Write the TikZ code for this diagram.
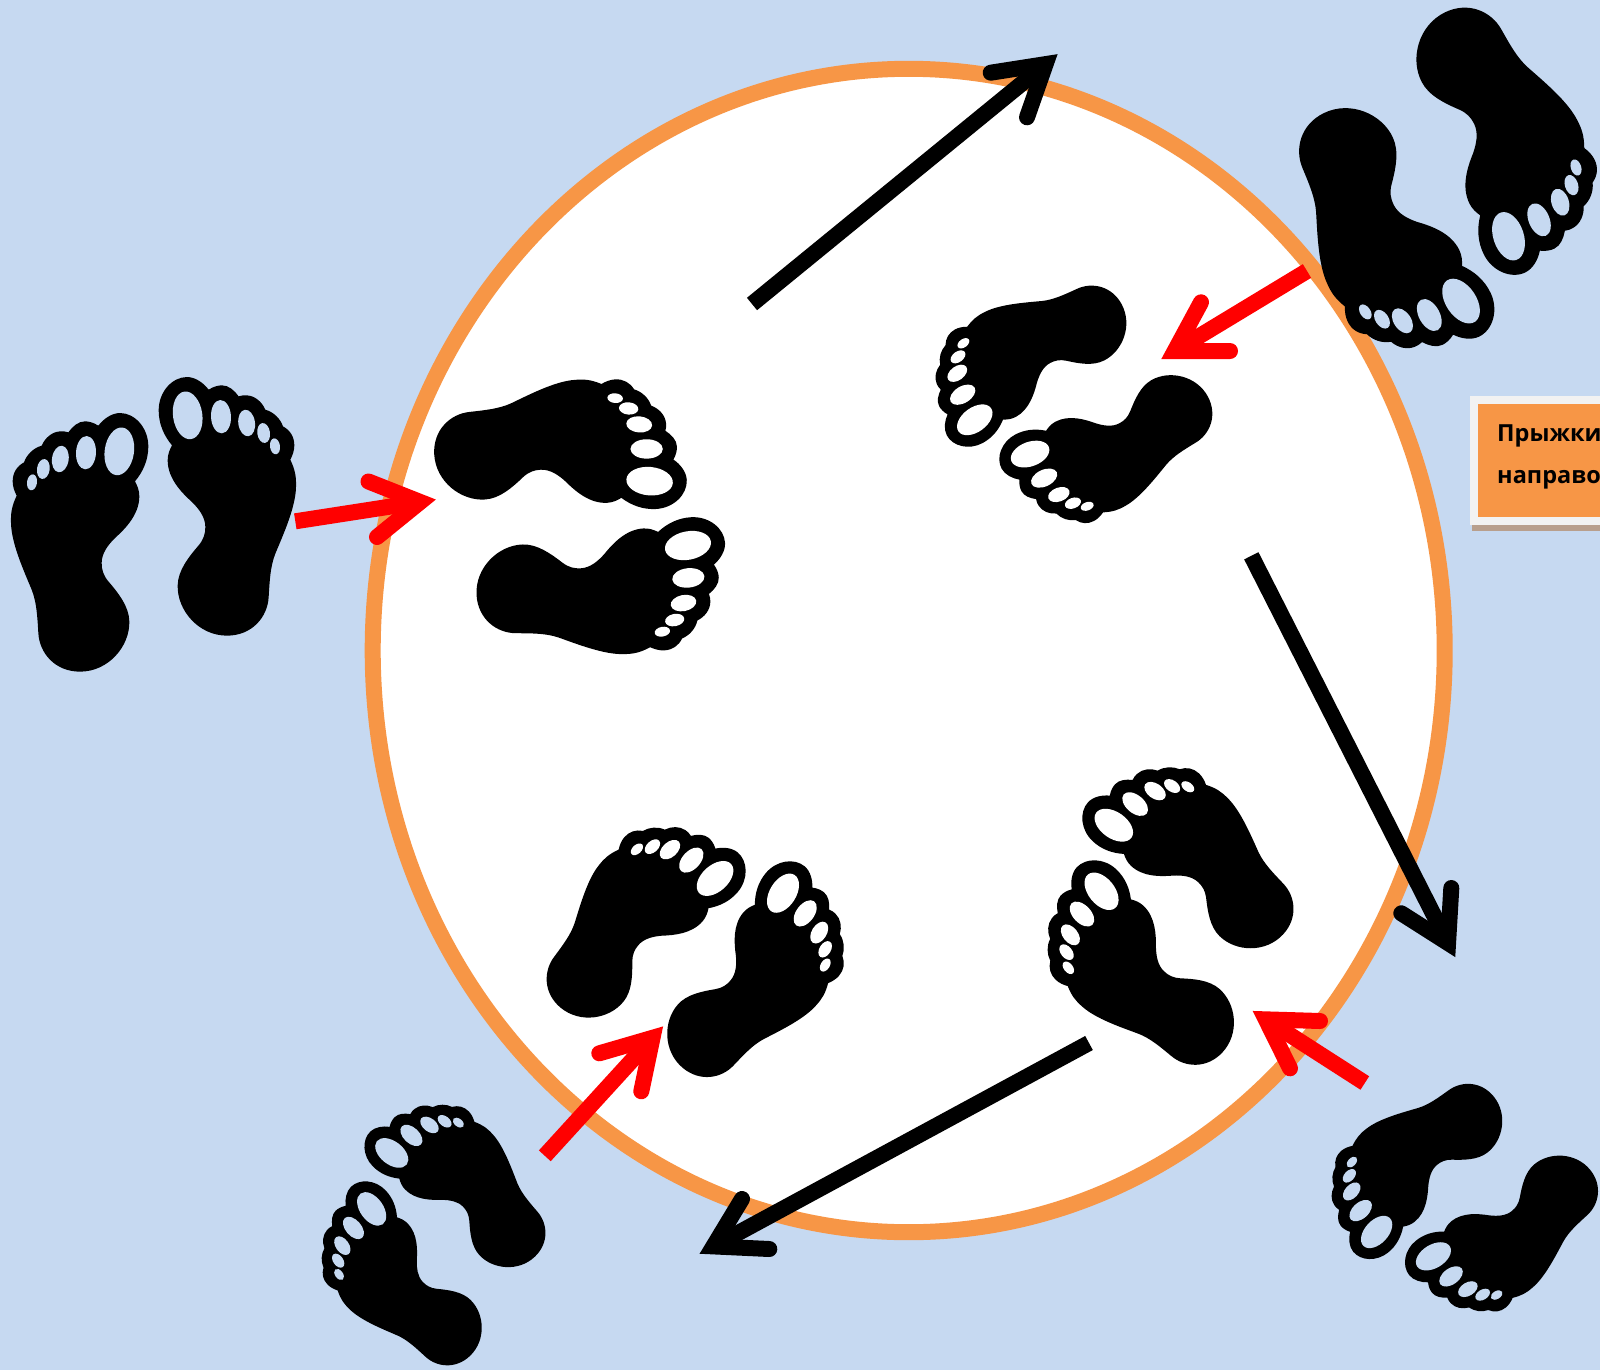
\documentclass[tikz,border=0pt]{standalone}
\usepackage{fontspec}
\setmainfont{Open Sans}
\usetikzlibrary{calc}
\definecolor{pagebg}{HTML}{C6D9F1}
\definecolor{ringc}{HTML}{F79646}
\definecolor{redc}{HTML}{FF0000}
\definecolor{labelframe}{HTML}{F2F2F2}
\definecolor{labelshadow}{HTML}{B89F8D}
\tikzset{
  ringline/.style={draw=ringc,fill=white,line width=16pt},
  shaftline/.style={line width=16pt,draw=#1,shorten >=20pt},
  headline/.style={line width=16pt,draw=#1,line cap=round,line join=miter},
  labeltext/.style={font=\bfseries\fontsize{23.5}{28}\selectfont,anchor=base west,inner sep=0pt,text=black}
}
\newcommand{\onefoot}[1]{%
  \fill[black] (-165,-185) .. controls (-190,-215) and (-205,-250) .. (-205,-290)
    .. controls (-205,-345) and (-165,-390) .. (-120,-390)
    .. controls (-95,-390) and (-70,-372) .. (-55,-352)
    .. controls (-40,-362) and (-25,-365) .. (-15,-365)
    .. controls (5,-365) and (22,-350) .. (35,-332)
    .. controls (45,-335) and (52,-336) .. (60,-335)
    .. controls (85,-333) and (105,-315) .. (115,-292)
    .. controls (140,-285) and (160,-265) .. (168,-242)
    .. controls (190,-230) and (202,-210) .. (202,-185)
    .. controls (202,-170) and (197,-155) .. (190,-142)
    .. controls (205,-110) and (208,-90) .. (207,-60)
    .. controls (206,0) and (170,80) .. (145,140)
    .. controls (130,178) and (128,220) .. (125,270)
    .. controls (122,330) and (75,386) .. (0,386)
    .. controls (-85,386) and (-150,310) .. (-148,235)
    .. controls (-147,190) and (-115,150) .. (-85,115)
    .. controls (-70,97) and (-65,80) .. (-65,60)
    .. controls (-65,30) and (-85,5) .. (-105,-15)
    .. controls (-135,-42) and (-178,-85) .. (-178,-140)
    .. controls (-178,-158) and (-172,-172) .. (-165,-185) -- cycle;
  \fill[#1,shift={(-118,-275)},rotate=8] (0,0) ellipse [x radius=44,y radius=72];
  \fill[#1,shift={(-18,-271)},rotate=3] (0,0) ellipse [x radius=30,y radius=50];
  \fill[#1,shift={(59,-252)},rotate=8] (0,0) ellipse [x radius=25,y radius=40];
  \fill[#1,shift={(110,-222)},rotate=8] (0,0) ellipse [x radius=19,y radius=30];
  \fill[#1,shift={(144,-182)},rotate=8] (0,0) ellipse [x radius=15,y radius=24];
}
\newcommand{\footpair}[7]{%
  \begin{scope}[shift={({#1+#6},{#2+#7})},rotate={0-(#3)},scale=#4]
    \begin{scope}[shift={(-73.5,18)},xscale=-0.3333,yscale=0.3333]\onefoot{#5}\end{scope}
  \end{scope}
  \begin{scope}[shift={(#1,#2)},rotate={0-(#3)},scale=#4]
    \begin{scope}[shift={(73.5,-18)},xscale=0.3333,yscale=0.3333]\onefoot{#5}\end{scope}
  \end{scope}
}
\newcommand{\openarrow}[6]{%
  \coordinate (s#1) at #2;
  \coordinate (t#1) at #3;
  \coordinate (p#1) at #4;
  \coordinate (q#1) at #5;
  \draw[shaftline=#6] (s#1) -- (t#1);
  \draw[headline=#6] (p#1) -- ($(t#1)!16pt!(s#1)$) -- (q#1);
}
\begin{document}
\begin{tikzpicture}[x=1pt,y=-1pt]
\useasboundingbox (0,0) rectangle (1600,1370);
\clip (0,0) rectangle (1600,1370);
\fill[pagebg] (0,0) rectangle (1600,1370);
% label
\fill[labelshadow] (1472,396) rectangle (1600,531);
\fill[labelframe] (1470,396) rectangle (1600,525);
\fill[ringc] (1478,404) rectangle (1600,517);
\node[labeltext] (lab1) at (1497,441) {Прыжки};
\node[labeltext] (lab2) at (1497,483) {направо};
% ring
\path[ringline] (908.7,650.5) ellipse [x radius=536,y radius=581.7];
% arrows under the feet
\openarrow{r2}{(1307,271)}{(1161,359.3)}{(1201,302.3)}{(1230,351)}{redc}
% feet
\footpair{153.5}{525}{0}{1}{pagebg}{0}{0}
\footpair{1443}{183}{154}{1.04}{pagebg}{0}{0}
\footpair{1069}{402}{-118}{.835}{white}{2}{-2}
\footpair{580}{518}{87}{.97}{white}{0}{0}
\footpair{696}{949}{40}{.9}{white}{0}{0}
\footpair{1165}{915}{-47}{.9}{white}{6}{-1}
\footpair{432.5}{1234}{-44}{.79}{pagebg}{-1}{-2}
\footpair{1462}{1198}{-129}{.8}{pagebg}{0}{0}
% arrows
\openarrow{k1}{(752,304)}{(1058,54)}{(990.7,72.7)}{(1027,117.3)}{black}
\openarrow{k2}{(1251.3,555.8)}{(1455.3,957.3)}{(1401.3,913.3)}{(1451.3,888)}{black}
\openarrow{k3}{(1089,1043)}{(699.3,1254)}{(742,1199)}{(769.3,1249)}{black}
\openarrow{r1}{(295.3,521.3)}{(436,499.5)}{(368.5,481.5)}{(377,537)}{redc}
\openarrow{r3}{(1364.8,1083)}{(1252.3,1010.7)}{(1320,1021)}{(1290,1068.3)}{redc}
\openarrow{r4}{(544.8,1155.8)}{(663.3,1026)}{(599.3,1053.3)}{(641.3,1091.3)}{redc}
\end{tikzpicture}
\end{document}
